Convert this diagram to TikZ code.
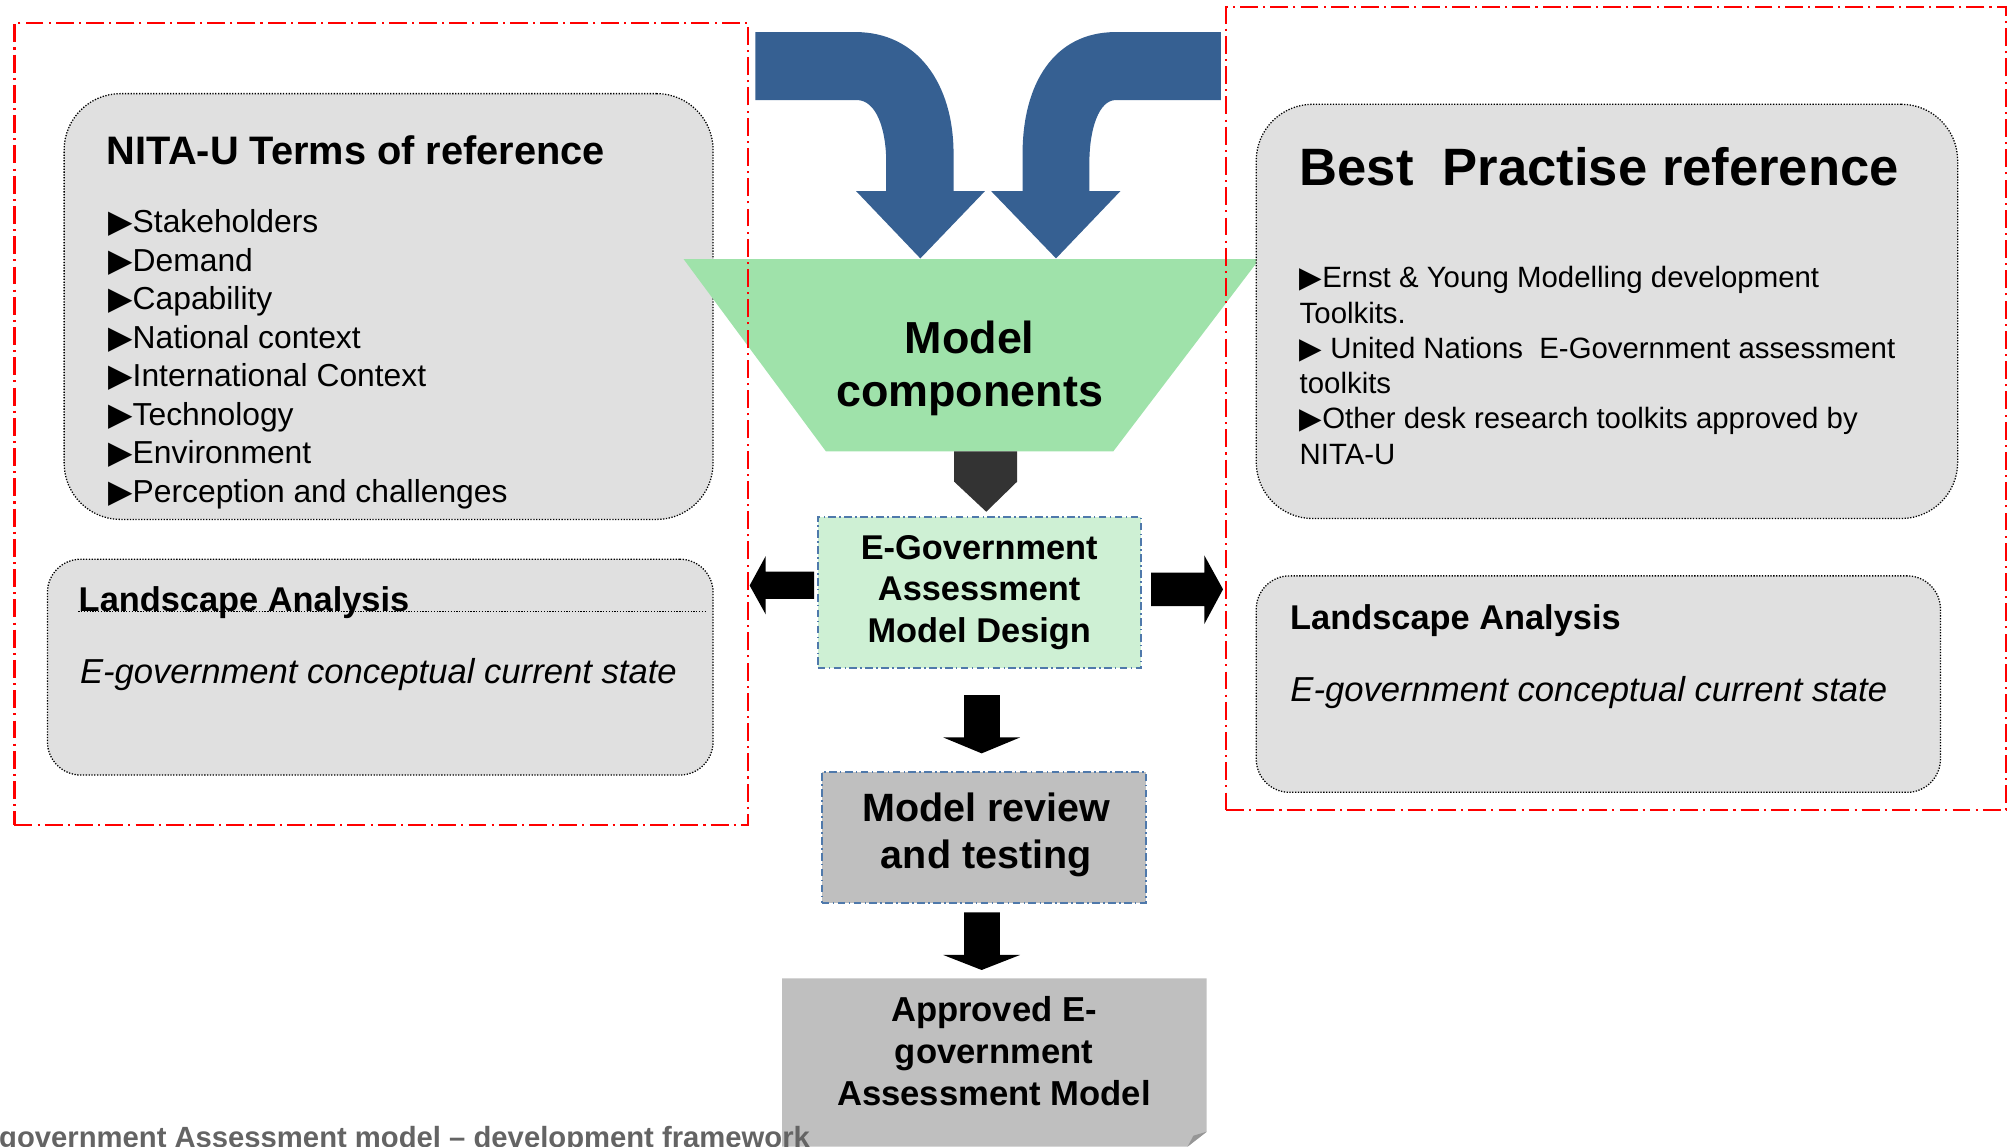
\documentclass[tikz,border=0pt]{standalone}
\usepackage{fontspec}
\setmainfont{Liberation Sans}
\newfontfamily\symfont{DejaVu Sans}
\definecolor{boxgray}{RGB}{224,224,224}
\definecolor{midgray}{RGB}{191,191,191}
\definecolor{foldgray}{RGB}{150,150,150}
\definecolor{funnelgreen}{RGB}{159,226,170}
\definecolor{lightgreen}{RGB}{206,240,212}
\definecolor{arrowblue}{RGB}{54,96,146}
\definecolor{borderblue}{RGB}{79,121,171}
\definecolor{darkarrow}{RGB}{51,51,51}
\definecolor{captiongray}{RGB}{100,100,100}
\newcommand{\tri}{{\symfont ▶}}
\begin{document}
\begin{tikzpicture}[x=0.5pt,y=-0.5pt,
  redbox/.style={draw=red, line width=0.9pt, dash pattern=on 7pt off 2pt on 0.8pt off 2pt, inner sep=0pt},
  graybox/.style={fill=boxgray, draw=black, line width=0.5pt, dash pattern=on 0.5pt off 0.6pt, inner sep=0pt},
  dotline/.style={draw=black, line width=0.5pt, dash pattern=on 0.5pt off 0.6pt},
  bluedash/.style={draw=borderblue, line width=0.7pt, dash pattern=on 3pt off 1.3pt on 0.6pt off 1.3pt},
  txt/.style={inner sep=0pt, anchor=base west},
  headA/.style={txt, font=\bfseries\fontsize{15.5pt}{18pt}\selectfont},
  itemA/.style={txt, font=\fontsize{12.4pt}{15pt}\selectfont},
  landtitle/.style={txt, font=\bfseries\fontsize{13.4pt}{16pt}\selectfont},
  landtext/.style={txt, font=\itshape\fontsize{13.5pt}{16pt}\selectfont},
  headB/.style={txt, font=\bfseries\fontsize{20.5pt}{24pt}\selectfont},
  itemB/.style={txt, font=\fontsize{11.45pt}{13.8pt}\selectfont},
]
\useasboundingbox (0,0) rectangle (1568,894);

% ---------- left column ----------
\node[graybox, rounded corners=22pt, minimum width=253pt, minimum height=166pt] (nita) at (303,239) {};
\node[headA] (nitahead) at (83,128) {NITA-U Terms of reference};
\foreach \t [count=\i from 0] in {Stakeholders,Demand,Capability,National context,International Context,Technology,Environment,Perception and challenges}
  \node[itemA] (nitaitem\i) at (84,181.5+30*\i) {\tri\t};

\node[graybox, rounded corners=13pt, minimum width=259.5pt, minimum height=84.15pt] (landl) at (296.5,520.15) {};
\coordinate (dotstart) at (61,477);
\coordinate (dotend) at (550,477);
\draw[dotline] (dotstart) -- (dotend);
\node[landtitle] (landltitle) at (61,477) {Landscape Analysis};
\node[landtext] (landltext) at (62,532.7) {E-government conceptual current state};

% ---------- blue curved arrows ----------
\fill[arrowblue] (589,25) -- (667,25) .. controls (715,25) and (743.5,65) .. (743.5,120)
  -- (743.5,149) -- (768,149) -- (717.6,201.5) -- (667.5,149) -- (691,149) -- (691,127)
  .. controls (691,100) and (683,78) .. (668,78) -- (589,78) -- cycle;
\fill[arrowblue] (952,25) -- (870,25) .. controls (822,25) and (797.3,65) .. (797.3,120)
  -- (797.3,149) -- (772.8,149) -- (823.4,201.5) -- (873.6,149) -- (849.4,149) -- (849.4,127)
  .. controls (849.4,100) and (857,78) .. (870,78) -- (952,78) -- cycle;

% ---------- funnel ----------
\fill[funnelgreen] (533,202) -- (982,202) -- (868,352) -- (644,352) -- cycle;
\node[inner sep=0pt, align=center, font=\bfseries\fontsize{17.5pt}{20.75pt}\selectfont] (funnel) at (756,287.5) {Model\\components};

% ---------- right column ----------
\node[graybox, rounded corners=22pt, minimum width=273.45pt, minimum height=161.5pt] (best) at (1252.95,242.8) {};
\node[headB] (besthead) at (1013,144.8) {Best~ Practise reference};
\node[itemB] (bestitem0) at (1013,224.2) {\tri Ernst \& Young Modelling development};
\node[itemB] (bestitem1) at (1013,251.9) {Toolkits.};
\node[itemB] (bestitem2) at (1013,279.2) {\tri{} United Nations~ E-Government assessment};
\node[itemB] (bestitem3) at (1013,306.5) {toolkits};
\node[itemB] (bestitem4) at (1013,334.2) {\tri Other desk research toolkits approved by};
\node[itemB] (bestitem5) at (1013,362) {NITA-U};

\node[graybox, rounded corners=13pt, minimum width=266.75pt, minimum height=84.4pt] (landr) at (1246.25,533.4) {};
\node[landtitle] (landrtitle) at (1005.6,491.2) {Landscape Analysis};
\node[landtext] (landrtext) at (1005.8,547) {E-government conceptual current state};

% ---------- red dash-dot frames ----------
\node[redbox, minimum width=286pt, minimum height=312.5pt] (redl) at (297.3,330.5) {};
\node[redbox, minimum width=304pt, minimum height=313pt] (redr) at (1260,318.6) {};

% ---------- centre flow ----------
\fill[darkarrow] (744,352) -- (793,352) -- (793,375.6) -- (769,399) -- (744,375.6) -- cycle;

\node[bluedash, fill=lightgreen, inner sep=0pt, minimum width=126pt, minimum height=59pt,
  align=center, font=\bfseries\fontsize{13.4pt}{16.25pt}\selectfont] (egov) at (763.5,462)
  {E-Government\\Assessment\\Model Design};

\fill[black] (634.8,445.7) -- (597,445.7) -- (597,433.6) -- (584.5,456.5) -- (597,479) -- (597,467) -- (634.8,467) -- cycle;
\fill[black] (897.5,446.5) -- (939,446.5) -- (939,433) -- (953.6,459.5) -- (939,486.6) -- (939,472.5) -- (897.5,472.5) -- cycle;

\fill[black] (751.7,542) -- (779.7,542) -- (779.7,575) -- (795.3,575) -- (765.4,587.4) -- (735.5,575) -- (751.7,575) -- cycle;

\node[bluedash, fill=midgray, inner sep=0pt, minimum width=126.3pt, minimum height=50.8pt] (review) at (767,653) {};
\node[inner sep=0pt, align=center, font=\bfseries\fontsize{15.4pt}{18.2pt}\selectfont] (reviewtext) at (769,651) {Model review\\and testing};

\fill[black] (751.7,711.4) -- (779.7,711.4) -- (779.7,744.6) -- (795.3,744.6) -- (765.4,756.3) -- (735.5,744.6) -- (751.7,744.6) -- cycle;

\fill[midgray] (609.8,762.8) -- (940.9,762.8) -- (940.9,882.4) -- (926,894) -- (609.8,894) -- cycle;
\fill[foldgray] (926,894) -- (940.9,882.4) -- (930.5,885.5) -- cycle;
\node[inner sep=0pt, align=center, font=\bfseries\fontsize{13.5pt}{16.25pt}\selectfont] (approved) at (775,819.5) {Approved E-\\government\\Assessment Model};

\node[inner sep=0pt, anchor=base east, text=captiongray, font=\bfseries\fontsize{11.4pt}{13pt}\selectfont] (caption) at (632,895) {government Assessment model – development framework};
\end{tikzpicture}
\end{document}
